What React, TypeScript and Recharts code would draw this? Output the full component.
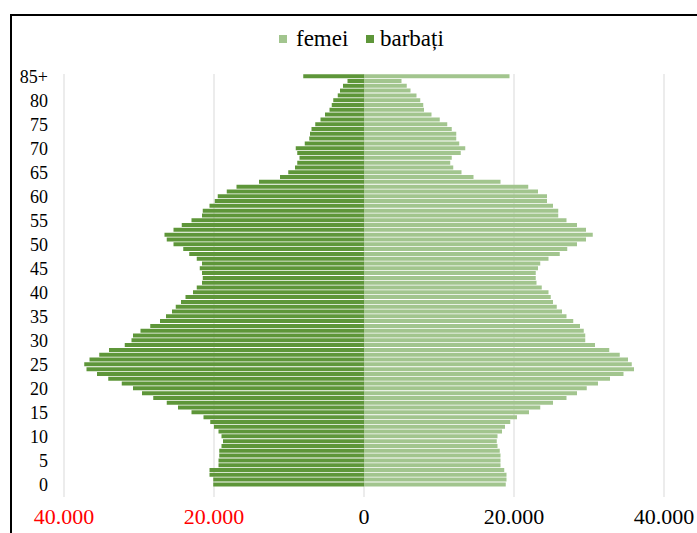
import { BarChart, Bar, XAxis, YAxis, CartesianGrid } from 'recharts';

// age groups, top of the pyramid first
const ages = [
  '85+', '84', '83', '82', '81', '80', '79', '78', '77', '76',
  '75', '74', '73', '72', '71', '70', '69', '68', '67', '66',
  '65', '64', '63', '62', '61', '60', '59', '58', '57', '56',
  '55', '54', '53', '52', '51', '50', '49', '48', '47', '46',
  '45', '44', '43', '42', '41', '40', '39', '38', '37', '36',
  '35', '34', '33', '32', '31', '30', '29', '28', '27', '26',
  '25', '24', '23', '22', '21', '20', '19', '18', '17', '16',
  '15', '14', '13', '12', '11', '10', '9', '8', '7', '6',
  '5', '4', '3', '2', '1', '0',
];

const barbati = [
  8100, 2200, 2800, 3200, 3500, 4100, 4300, 4600, 5200, 5800,
  6500, 7000, 7200, 7300, 7900, 9100, 8900, 8600, 8900, 9200,
  10100, 11200, 14000, 17000, 18300, 19500, 19900, 20600, 21500, 21600,
  23000, 24300, 25400, 26600, 26300, 25400, 24100, 23300, 22300, 21600,
  21900, 21600, 21500, 21600, 22300, 22800, 23800, 24400, 25100, 25600,
  26400, 27200, 28500, 29800, 30800, 31000, 31900, 34000, 35300, 36600,
  37300, 37000, 35600, 34100, 32300, 30800, 29600, 28100, 26300, 24800,
  23000, 21400, 20500, 20000, 19400, 19000, 18800, 19000, 19300, 19300,
  19400, 19400, 20600, 20600, 20100, 20100,
];

const femei = [
  19400, 5000, 5700, 6200, 7000, 7500, 7900, 8000, 9000, 10100,
  11100, 11700, 12300, 12300, 12700, 13500, 12900, 11700, 11500, 11900,
  13000, 14600, 18200, 21900, 23200, 24400, 24400, 25200, 25900, 25900,
  27000, 28400, 29600, 30500, 29600, 28400, 27100, 26100, 24600, 23500,
  23200, 22900, 22900, 23000, 23700, 24600, 24900, 25200, 25700, 26400,
  27000, 27900, 28800, 29300, 29500, 29500, 30800, 32700, 34100, 35200,
  35700, 36000, 34600, 32800, 31200, 29700, 28400, 27000, 25200, 23500,
  22000, 20400, 19500, 18800, 18400, 17800, 17700, 17800, 18100, 18200,
  18200, 18200, 18700, 19000, 19000, 18900,
];

const xTicks = [-40000, -20000, 0, 20000, 40000];

const data = ages.map((age, i) => ({ age, barbati: -barbati[i], femei: femei[i] }));

const DARK = '#5e9639';
const LIGHT = '#a2c58e';
const FONT = "'Liberation Serif', serif";

const fmt = (v: number) => Math.abs(v).toLocaleString('de-DE');

function XTick(props: any) {
  const { x, y, payload } = props;
  return (
    <text x={x} y={y} dy={19} textAnchor="middle" fontSize={22} fontFamily={FONT}
      fill={payload.value < 0 ? '#ff0000' : '#000'}>
      {fmt(payload.value)}
    </text>
  );
}

function TopLegend() {
  return (
    <svg width={200} height={30} style={{ position: 'absolute', left: 270, top: 24 }}>
      <rect x={9} y={11} width={8} height={8} fill={LIGHT} />
      <text x={26} y={22} fontSize={23} fontFamily={FONT} fill="#000">femei</text>
      <rect x={96} y={11} width={8} height={8} fill={DARK} />
      <text x={110} y={22} fontSize={23} fontFamily={FONT} fill="#000">barbați</text>
    </svg>
  );
}

export default function App() {
  return (
    <div style={{ position: 'fixed', left: 0, top: 0, width: 697, height: 533, background: '#fff', overflow: 'hidden' }}>
      <div style={{ position: 'absolute', left: 10, top: 14, width: 700, height: 600, border: '2px solid #000' }} />
      <TopLegend />
      <BarChart
        width={697}
        height={533}
        data={data}
        layout="vertical"
        stackOffset="sign"
        barCategoryGap="4%"
        margin={{ top: 74, right: 33, bottom: 6, left: 0 }}
        style={{ position: 'absolute', left: 0, top: 0 }}
      >
        <CartesianGrid horizontal={false} stroke="#d9d9d9" />
        <XAxis
          type="number"
          domain={[-40000, 40000]}
          ticks={xTicks}
          axisLine={false}
          tickLine={false}
          height={30}
          tick={<XTick />}
        />
        <YAxis
          type="category"
          dataKey="age"
          interval={4}
          width={64}
          axisLine={false}
          tickLine={false}
          tickSize={6}
          tickMargin={10}
          padding={{ top: 0, bottom: 10 }}
          tick={{ fontSize: 18, fill: '#000', fontFamily: FONT }}
        />
        <Bar dataKey="barbati" stackId="p" fill={DARK} isAnimationActive={false} />
        <Bar dataKey="femei" stackId="p" fill={LIGHT} isAnimationActive={false} />
      </BarChart>
    </div>
  );
}
